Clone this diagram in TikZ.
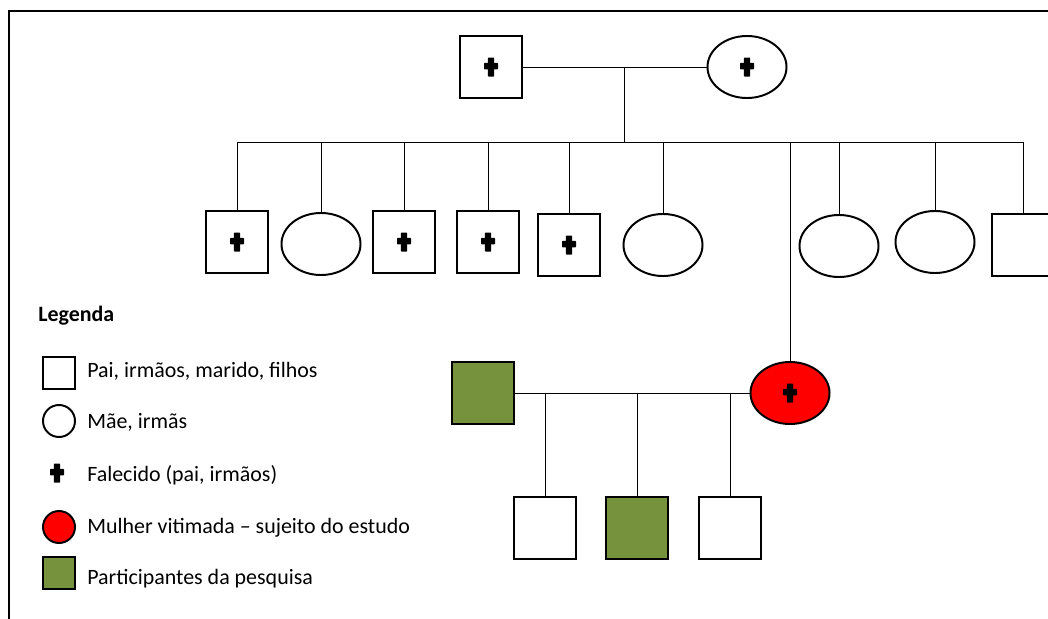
\documentclass[tikz,border=0pt]{standalone}
\usepackage{fontspec}
\setmainfont{Carlito}
\usepackage{tikz}
\usetikzlibrary{shapes.geometric}

\definecolor{verdeoliva}{RGB}{118,146,60}

\tikzset{
  homem/.style={draw,line width=1.4pt,minimum size=1.55cm,inner sep=0pt},
  mulher/.style={draw,ellipse,line width=1.4pt,minimum width=1.975cm,
                 minimum height=1.55cm,inner sep=0pt},
  legenda/.style={minimum size=0.8cm},
  texto/.style={anchor=base west,inner sep=0pt},
  fio/.style={line width=0.7pt},
  cruz/.pic={\fill[rounded corners=0.5pt] (-3.2,-9.5) rectangle (3.2,9.5);
             \fill[rounded corners=0.5pt] (-7,-4.2) rectangle (7,2.3);}
}

\begin{document}
\begin{tikzpicture}[x=0.025cm,y=-0.025cm,font=\fontsize{15.6}{19}\selectfont]
      \begin{scope}
        \useasboundingbox (0,0) rectangle (1048,619);
        \draw[line width=1.4pt] (9,619) -- (9,11) -- (1048,11);

        % pais
        \path (491,67) node[homem] (pai) {};
        \path (747,67) node[mulher] (mae) {};
        \draw[fio] (pai) -- (mae);
        \coordinate (casal) at (624,67);
        \coordinate (irmaos) at (624,142);
        \draw[fio] (casal) -- (irmaos);

        % filhos
        \path (237,242) node[homem] (f1) {};
        \path (321,244) node[mulher] (f2) {};
        \path (404,242) node[homem] (f3) {};
        \path (488,242) node[homem] (f4) {};
        \path (569,245) node[homem] (f5) {};
        \path (663,245) node[mulher] (f6) {};
        \path (790,393) node[mulher,fill=red] (vitima) {};
        \path (839,246) node[mulher] (f8) {};
        \path (935,242) node[mulher] (f9) {};
        \path (1023,245) node[homem] (f10) {};

        \draw[fio] (f1.north |- irmaos) -- (f10.north |- irmaos);
        \foreach \f in {f1,f2,f3,f4,f5,f6,vitima,f8,f9,f10}
        { \draw[fio] (\f.north) -- (\f.north |- irmaos); }

        % marido e filhos
        \path (483,393) node[homem,fill=verdeoliva] (marido) {};
        \draw[fio] (marido) -- (vitima);
        \path (545,528) node[homem] (n1) {};
        \path (637,528) node[homem,fill=verdeoliva] (n2) {};
        \path (730,528) node[homem] (n3) {};
        \foreach \n in {n1,n2,n3}
        { \draw[fio] (\n.north) -- (\n.north |- marido); }

        \foreach \f in {pai,mae,f1,f3,f4,f5,vitima}
        { \pic at (\f) {cruz}; }

        % legenda
        \draw (38,321) node[texto]{\bfseries Legenda};
        \path (59,373) node[homem,legenda] (lg1) {};
        \path (59,421) node[mulher,circle,legenda] (lg2) {};
        \pic at (57,473) {cruz};
        \path (59,527) node[mulher,circle,legenda,fill=red] (lg4) {};
        \path (59,573) node[homem,legenda,fill=verdeoliva] (lg5) {};

        \draw (87,377) node[texto]{Pai, irmãos, marido, filhos};
        \draw (87,428) node[texto]{Mãe, irmãs};
        \draw (87,481) node[texto]{Falecido (pai, irmãos)};
        \draw (87,533) node[texto]{Mulher vitimada – sujeito do estudo};
        \draw (87,584) node[texto]{Participantes da pesquisa};
      \end{scope}
    \end{tikzpicture}
\end{document}
